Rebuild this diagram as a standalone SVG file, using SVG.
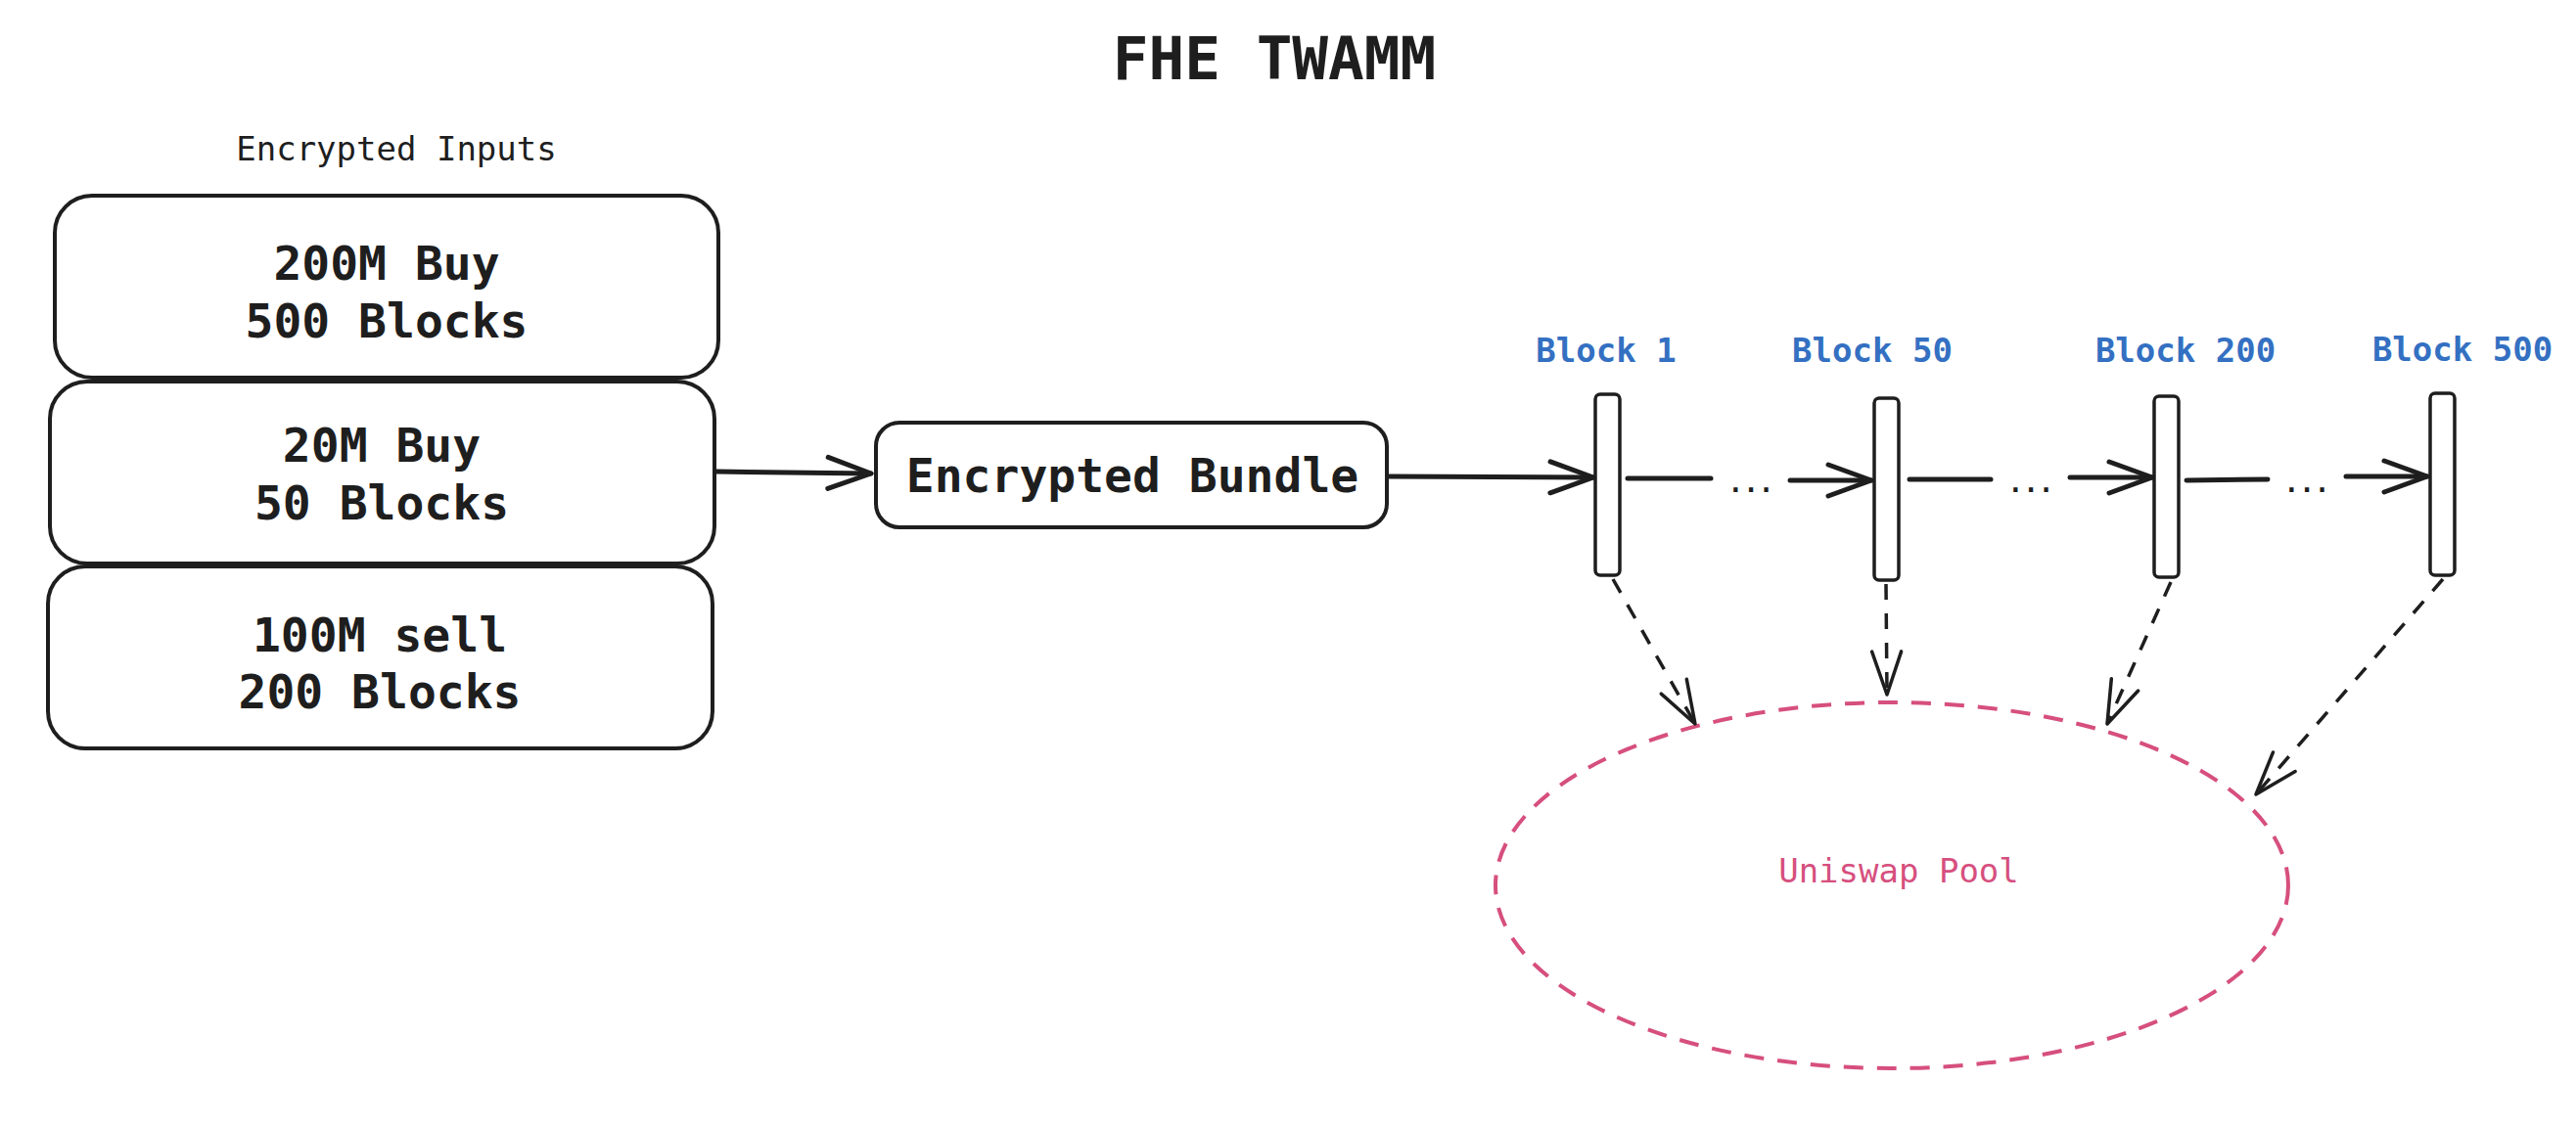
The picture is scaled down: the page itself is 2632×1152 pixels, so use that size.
<svg xmlns="http://www.w3.org/2000/svg" width="2632" height="1152" viewBox="0 0 2632 1152">
<style>
text{font-family:"DejaVu Sans Mono","Liberation Mono",monospace;text-anchor:middle}
.t{fill:#1e1e1e}
.title{font-size:61px;font-weight:bold}
.small{font-size:34px}
.big{font-size:48px;font-weight:bold}
.blue{fill:#3470c2;font-size:34px;font-weight:bold}
.pink{fill:#d64f7e;font-size:34px}
.box{fill:#fff;stroke:#1e1e1e;stroke-width:4}
.bar{fill:#fff;stroke:#1e1e1e;stroke-width:3.5}
.con{fill:none;stroke:#1e1e1e;stroke-width:5;stroke-linecap:round}
.dash{fill:none;stroke:#1e1e1e;stroke-width:3.5;stroke-dasharray:16 14}
.dots{font-size:26px;fill:#1e1e1e;font-weight:bold}
</style>
<defs>
<marker id="ah" viewBox="-50 -20 56 40" refX="0" refY="0" markerWidth="56" markerHeight="40" markerUnits="userSpaceOnUse" orient="auto">
<path d="M -44 -16 L 0 0 L -44 16" fill="none" stroke="#1e1e1e" stroke-width="5" stroke-linecap="round" stroke-linejoin="round"/>
</marker>
<marker id="ahd" viewBox="-50 -20 56 40" refX="0" refY="0" markerWidth="56" markerHeight="40" markerUnits="userSpaceOnUse" orient="auto">
<path d="M -44 -15 L 0 0 L -44 15" fill="none" stroke="#1e1e1e" stroke-width="3.5" stroke-linecap="round" stroke-linejoin="round"/>
</marker>
</defs>
<rect width="2632" height="1152" fill="#fff"/>
<g id="title"><text class="t title" x="1302" y="81">FHE TWAMM</text></g>
<g id="inputs-label"><text class="t small" x="405" y="164">Encrypted Inputs</text></g>
<g id="input1">
<rect class="box" x="56" y="200" width="678" height="186" rx="38"/>
<text class="t big" x="395" y="286">200M Buy</text>
<text class="t big" x="395" y="345">500 Blocks</text>
</g>
<g id="input2">
<rect class="box" x="51" y="390" width="679" height="186" rx="38"/>
<text class="t big" x="390" y="472">20M Buy</text>
<text class="t big" x="390" y="531">50 Blocks</text>
</g>
<g id="input3">
<rect class="box" x="49" y="579" width="679" height="186" rx="38"/>
<text class="t big" x="388" y="666">100M sell</text>
<text class="t big" x="388" y="724">200 Blocks</text>
</g>
<g id="bundle">
<rect class="box" x="895" y="432" width="522" height="107" rx="24"/>
<text class="t big" x="1157" y="503">Encrypted Bundle</text>
</g>
<g id="block1">
<text class="blue" x="1641" y="370">Block 1</text>
<rect class="bar" x="1630" y="403" width="25" height="185" rx="5"/>
</g>
<g id="block50">
<text class="blue" x="1913" y="370">Block 50</text>
<rect class="bar" x="1915" y="407" width="25" height="186" rx="5"/>
</g>
<g id="block200">
<text class="blue" x="2233" y="370">Block 200</text>
<rect class="bar" x="2201" y="405" width="25" height="185" rx="5"/>
</g>
<g id="block500">
<text class="blue" x="2516" y="369">Block 500</text>
<rect class="bar" x="2483" y="402" width="25" height="186" rx="5"/>
</g>
<g id="pool">
<ellipse cx="1933" cy="905" rx="405" ry="187" fill="none" stroke="#d64f7e" stroke-width="4" stroke-dasharray="20 14"/>
<text class="pink" x="1940" y="902">Uniswap Pool</text>
</g>
<g id="connectors">
<line class="con" x1="732" y1="482" x2="890" y2="484" marker-end="url(#ah)"/>
<line class="con" x1="1419" y1="487" x2="1628" y2="488" marker-end="url(#ah)"/>
<line class="con" x1="1663" y1="489" x2="1748" y2="489"/>
<text class="dots" x="1789" y="503">...</text>
<line class="con" x1="1829" y1="491" x2="1912" y2="491" marker-end="url(#ah)"/>
<line class="con" x1="1951" y1="490" x2="2034" y2="490"/>
<text class="dots" x="2075" y="503">...</text>
<line class="con" x1="2115" y1="488" x2="2199" y2="488" marker-end="url(#ah)"/>
<line class="con" x1="2234" y1="491" x2="2317" y2="490"/>
<text class="dots" x="2357" y="503">...</text>
<line class="con" x1="2397" y1="487" x2="2480" y2="487" marker-end="url(#ah)"/>
<line class="dash" x1="1648" y1="592" x2="1732" y2="740" marker-end="url(#ahd)"/>
<line class="dash" x1="1927" y1="597" x2="1928" y2="710" marker-end="url(#ahd)"/>
<line class="dash" x1="2218" y1="595" x2="2153" y2="740" marker-end="url(#ahd)"/>
<line class="dash" x1="2496" y1="592" x2="2305" y2="812" marker-end="url(#ahd)"/>
</g>
</svg>
